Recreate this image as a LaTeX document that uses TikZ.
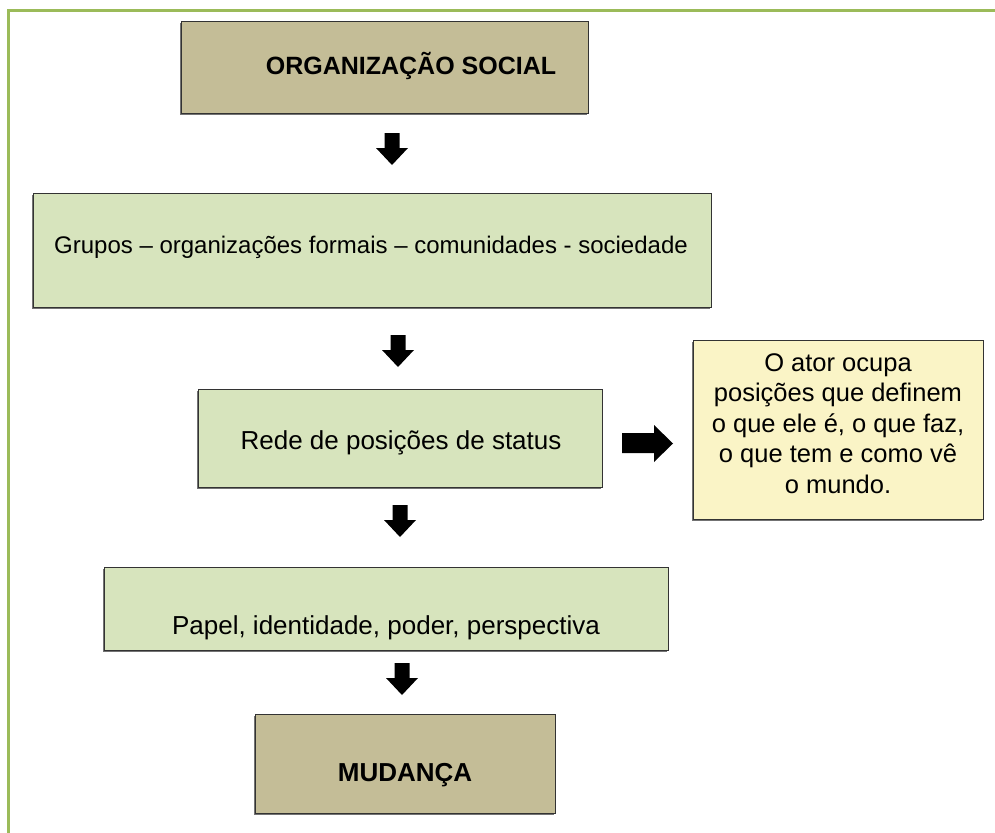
\documentclass[tikz,border=0pt]{standalone}
\usepackage{fontspec}
\setmainfont{Liberation Sans}
\usetikzlibrary{shadows}
\definecolor{framegreen}{HTML}{9BBB59}
\definecolor{tanfill}{HTML}{C4BD97}
\definecolor{greenfill}{HTML}{D7E4BD}
\definecolor{yellowfill}{HTML}{FAF4C6}
\definecolor{edgecol}{HTML}{333333}
\tikzset{
  box/.style={draw=edgecol, line width=0.9pt, inner sep=0pt, anchor=north west,
    drop shadow={shadow xshift=-1.6pt, shadow yshift=-1.6pt, fill=black!55, opacity=1}},
  tanbox/.style={box, fill=tanfill},
  greenbox/.style={box, fill=greenfill},
  yellowbox/.style={box, fill=yellowfill, drop shadow={opacity=0}},
  plaintxt/.style={inner sep=0pt, anchor=base, font=\fontsize{26}{30}\selectfont},
  boldtxt/.style={inner sep=0pt, anchor=base, font=\fontsize{25}{30}\selectfont\bfseries},
  blockarrow/.style={fill=black, draw=none}
}
\newcommand\downblock[2]{%
  \fill[blockarrow] ({#1-7.5},#2) -- ({#1+7.5},#2) -- ({#1+7.5},{#2+15}) -- ({#1+16},{#2+15})
    -- (#1,{#2+32}) -- ({#1-16},{#2+15}) -- ({#1-7.5},{#2+15}) -- cycle;}
\begin{document}
\begin{tikzpicture}[x=1pt,y=-1pt]
\useasboundingbox (0,0) rectangle (995,832);
\fill[white] (0,0) rectangle (995,832);
% frame
\draw[framegreen, line width=2.6pt] (8.5,840) -- (8.5,10.5) -- (1000,10.5);
% boxes
\node[tanbox, minimum width=407pt, minimum height=92pt] (org) at (181,21) {};
\node[boldtxt] (orgt) at (411,75) {ORGANIZAÇÃO SOCIAL};

\node[greenbox, minimum width=678pt, minimum height=114pt] (grp) at (33,193) {};
\node[plaintxt, font=\fontsize{24}{29}\selectfont] (grpt) at (371,253) {Grupos – organizações formais – comunidades - sociedade};

\node[greenbox, minimum width=404pt, minimum height=98pt] (rede) at (198,389) {};
\node[plaintxt] (redet) at (401,449) {Rede de posições de status};

\node[yellowbox, minimum width=290pt, minimum height=179pt] (ator) at (693,340) {};
\node[inner sep=0pt, anchor=base, align=center, font=\fontsize{25.5}{30.5}\selectfont] (atort) at (838,493)
  {O ator ocupa\\posições que definem\\o que ele é, o que faz,\\o que tem e como vê\\o mundo.};

\node[greenbox, minimum width=564pt, minimum height=83pt] (pap) at (104,567) {};
\node[plaintxt] (papt) at (386,634) {Papel, identidade, poder, perspectiva};

\node[tanbox, minimum width=300pt, minimum height=99pt] (mud) at (255,714) {};
\node[boldtxt, font=\fontsize{26}{30}\selectfont\bfseries] (mudt) at (405,781) {MUDANÇA};

% block arrows
\downblock{392}{133}
\downblock{398}{335}
\downblock{400}{505}
\downblock{402}{663}
\fill[blockarrow] (622,433) -- (654,433) -- (654,425) -- (673,443.5) -- (654,462) -- (654,453) -- (622,453) -- cycle;
\end{tikzpicture}
\end{document}
